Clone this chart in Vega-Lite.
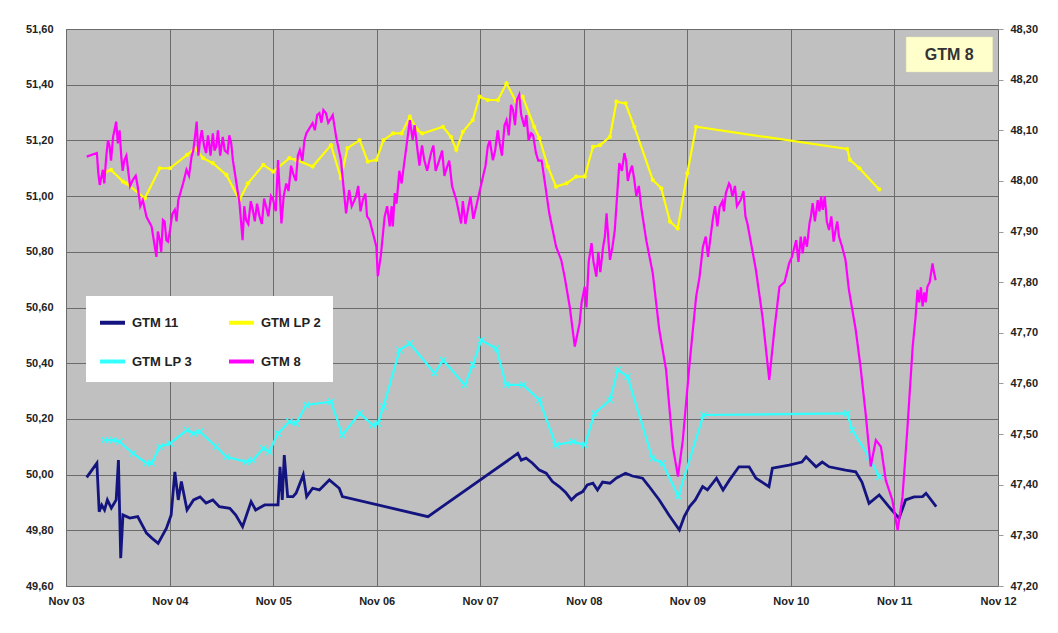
{
  "$schema": "https://vega.github.io/schema/vega-lite/v6.json",
  "width": 932,
  "height": 557,
  "autosize": {"type": "none"},
  "padding": {"left": 66, "top": 29, "right": 60, "bottom": 47},
  "background": "white",
  "config": {
    "view": {"fill": "#c0c0c0", "stroke": "#808080", "strokeWidth": 1},
    "font": "Liberation Sans",
    "axis": {"labelFont": "Liberation Sans", "labelFontWeight": "bold", "labelFontSize": 11, "labelColor": "#222222", "gridColor": "#6b6b6b", "gridWidth": 1, "gridOpacity": 1, "domain": false, "labelOverlap": false},
    "legend": {"labelFont": "Liberation Sans", "labelFontWeight": "bold", "labelFontSize": 13, "labelColor": "#222222"}
  },
  "datasets": {
    "left": [
      {"date": "2004-01-13", "series": "GTM 11", "value": 49.990},
      {"date": "2004-02-18", "series": "GTM 11", "value": 50.041},
      {"date": "2004-02-26", "series": "GTM 11", "value": 49.867},
      {"date": "2004-03-06", "series": "GTM 11", "value": 49.891},
      {"date": "2004-03-16", "series": "GTM 11", "value": 49.873},
      {"date": "2004-03-26", "series": "GTM 11", "value": 49.909},
      {"date": "2004-04-09", "series": "GTM 11", "value": 49.880},
      {"date": "2004-04-26", "series": "GTM 11", "value": 49.909},
      {"date": "2004-05-04", "series": "GTM 11", "value": 50.052},
      {"date": "2004-05-12", "series": "GTM 11", "value": 49.700},
      {"date": "2004-05-20", "series": "GTM 11", "value": 49.855},
      {"date": "2004-06-13", "series": "GTM 11", "value": 49.844},
      {"date": "2004-07-11", "series": "GTM 11", "value": 49.849},
      {"date": "2004-08-11", "series": "GTM 11", "value": 49.790},
      {"date": "2004-08-30", "series": "GTM 11", "value": 49.772},
      {"date": "2004-09-21", "series": "GTM 11", "value": 49.753},
      {"date": "2004-10-20", "series": "GTM 11", "value": 49.807},
      {"date": "2004-11-06", "series": "GTM 11", "value": 49.855},
      {"date": "2004-11-19", "series": "GTM 11", "value": 50.010},
      {"date": "2004-12-01", "series": "GTM 11", "value": 49.909},
      {"date": "2004-12-12", "series": "GTM 11", "value": 49.975},
      {"date": "2005-01-01", "series": "GTM 11", "value": 49.873},
      {"date": "2005-01-24", "series": "GTM 11", "value": 49.909},
      {"date": "2005-02-16", "series": "GTM 11", "value": 49.920},
      {"date": "2005-03-09", "series": "GTM 11", "value": 49.898},
      {"date": "2005-04-02", "series": "GTM 11", "value": 49.909},
      {"date": "2005-04-25", "series": "GTM 11", "value": 49.885},
      {"date": "2005-06-01", "series": "GTM 11", "value": 49.879},
      {"date": "2005-06-22", "series": "GTM 11", "value": 49.855},
      {"date": "2005-07-16", "series": "GTM 11", "value": 49.813},
      {"date": "2005-08-15", "series": "GTM 11", "value": 49.903},
      {"date": "2005-08-31", "series": "GTM 11", "value": 49.873},
      {"date": "2005-10-02", "series": "GTM 11", "value": 49.891},
      {"date": "2005-11-01", "series": "GTM 11", "value": 49.891},
      {"date": "2005-11-18", "series": "GTM 11", "value": 49.891},
      {"date": "2005-11-25", "series": "GTM 11", "value": 50.028},
      {"date": "2005-12-03", "series": "GTM 11", "value": 49.909},
      {"date": "2005-12-10", "series": "GTM 11", "value": 50.070},
      {"date": "2005-12-22", "series": "GTM 11", "value": 49.921},
      {"date": "2006-01-10", "series": "GTM 11", "value": 49.921},
      {"date": "2006-01-21", "series": "GTM 11", "value": 49.934},
      {"date": "2006-02-15", "series": "GTM 11", "value": 49.999},
      {"date": "2006-02-27", "series": "GTM 11", "value": 49.921},
      {"date": "2006-03-20", "series": "GTM 11", "value": 49.951},
      {"date": "2006-04-13", "series": "GTM 11", "value": 49.945},
      {"date": "2006-05-18", "series": "GTM 11", "value": 49.981},
      {"date": "2006-06-22", "series": "GTM 11", "value": 49.951},
      {"date": "2006-07-03", "series": "GTM 11", "value": 49.921},
      {"date": "2007-05-01", "series": "GTM 11", "value": 49.849},
      {"date": "2008-03-13", "series": "GTM 11", "value": 50.076},
      {"date": "2008-03-25", "series": "GTM 11", "value": 50.052},
      {"date": "2008-04-11", "series": "GTM 11", "value": 50.059},
      {"date": "2008-05-04", "series": "GTM 11", "value": 50.041},
      {"date": "2008-05-28", "series": "GTM 11", "value": 50.016},
      {"date": "2008-06-21", "series": "GTM 11", "value": 50.005},
      {"date": "2008-07-13", "series": "GTM 11", "value": 49.975},
      {"date": "2008-08-06", "series": "GTM 11", "value": 49.957},
      {"date": "2008-08-28", "series": "GTM 11", "value": 49.937},
      {"date": "2008-09-18", "series": "GTM 11", "value": 49.909},
      {"date": "2008-10-06", "series": "GTM 11", "value": 49.927},
      {"date": "2008-10-28", "series": "GTM 11", "value": 49.939},
      {"date": "2008-11-13", "series": "GTM 11", "value": 49.963},
      {"date": "2008-12-03", "series": "GTM 11", "value": 49.969},
      {"date": "2008-12-19", "series": "GTM 11", "value": 49.945},
      {"date": "2009-01-06", "series": "GTM 11", "value": 49.973},
      {"date": "2009-02-01", "series": "GTM 11", "value": 49.969},
      {"date": "2009-02-24", "series": "GTM 11", "value": 49.988},
      {"date": "2009-03-28", "series": "GTM 11", "value": 50.005},
      {"date": "2009-04-21", "series": "GTM 11", "value": 49.995},
      {"date": "2009-05-27", "series": "GTM 11", "value": 49.987},
      {"date": "2009-06-18", "series": "GTM 11", "value": 49.959},
      {"date": "2009-07-25", "series": "GTM 11", "value": 49.909},
      {"date": "2009-08-28", "series": "GTM 11", "value": 49.855},
      {"date": "2009-10-04", "series": "GTM 11", "value": 49.801},
      {"date": "2009-10-21", "series": "GTM 11", "value": 49.849},
      {"date": "2009-11-09", "series": "GTM 11", "value": 49.885},
      {"date": "2009-11-29", "series": "GTM 11", "value": 49.909},
      {"date": "2009-12-25", "series": "GTM 11", "value": 49.957},
      {"date": "2010-01-11", "series": "GTM 11", "value": 49.945},
      {"date": "2010-02-12", "series": "GTM 11", "value": 49.987},
      {"date": "2010-03-07", "series": "GTM 11", "value": 49.945},
      {"date": "2010-03-30", "series": "GTM 11", "value": 49.981},
      {"date": "2010-05-02", "series": "GTM 11", "value": 50.028},
      {"date": "2010-06-07", "series": "GTM 11", "value": 50.028},
      {"date": "2010-07-01", "series": "GTM 11", "value": 49.987},
      {"date": "2010-08-16", "series": "GTM 11", "value": 49.957},
      {"date": "2010-08-28", "series": "GTM 11", "value": 50.023},
      {"date": "2010-10-26", "series": "GTM 11", "value": 50.034},
      {"date": "2010-12-10", "series": "GTM 11", "value": 50.045},
      {"date": "2010-12-25", "series": "GTM 11", "value": 50.064},
      {"date": "2011-01-29", "series": "GTM 11", "value": 50.028},
      {"date": "2011-02-20", "series": "GTM 11", "value": 50.045},
      {"date": "2011-03-16", "series": "GTM 11", "value": 50.028},
      {"date": "2011-05-13", "series": "GTM 11", "value": 50.016},
      {"date": "2011-06-18", "series": "GTM 11", "value": 50.010},
      {"date": "2011-07-10", "series": "GTM 11", "value": 49.973},
      {"date": "2011-08-04", "series": "GTM 11", "value": 49.897},
      {"date": "2011-09-09", "series": "GTM 11", "value": 49.927},
      {"date": "2011-10-13", "series": "GTM 11", "value": 49.885},
      {"date": "2011-11-18", "series": "GTM 11", "value": 49.843},
      {"date": "2011-12-11", "series": "GTM 11", "value": 49.909},
      {"date": "2012-01-10", "series": "GTM 11", "value": 49.920},
      {"date": "2012-02-09", "series": "GTM 11", "value": 49.921},
      {"date": "2012-02-21", "series": "GTM 11", "value": 49.933},
      {"date": "2012-03-28", "series": "GTM 11", "value": 49.885},

      {"date": "2004-03-22", "series": "GTM LP 2", "value": 51.088},
      {"date": "2004-04-08", "series": "GTM LP 2", "value": 51.094},
      {"date": "2004-05-20", "series": "GTM LP 2", "value": 51.052},
      {"date": "2004-06-01", "series": "GTM LP 2", "value": 51.046},
      {"date": "2004-08-05", "series": "GTM LP 2", "value": 50.992},
      {"date": "2004-09-27", "series": "GTM LP 2", "value": 51.100},
      {"date": "2004-11-02", "series": "GTM LP 2", "value": 51.100},
      {"date": "2005-01-01", "series": "GTM LP 2", "value": 51.148},
      {"date": "2005-01-29", "series": "GTM LP 2", "value": 51.172},
      {"date": "2005-02-27", "series": "GTM LP 2", "value": 51.136},
      {"date": "2005-04-02", "series": "GTM LP 2", "value": 51.118},
      {"date": "2005-05-20", "series": "GTM LP 2", "value": 51.076},
      {"date": "2005-07-05", "series": "GTM LP 2", "value": 50.986},
      {"date": "2005-08-04", "series": "GTM LP 2", "value": 51.046},
      {"date": "2005-09-27", "series": "GTM LP 2", "value": 51.112},
      {"date": "2005-11-01", "series": "GTM LP 2", "value": 51.088},
      {"date": "2005-12-28", "series": "GTM LP 2", "value": 51.136},
      {"date": "2006-01-21", "series": "GTM LP 2", "value": 51.130},
      {"date": "2006-03-20", "series": "GTM LP 2", "value": 51.106},
      {"date": "2006-05-24", "series": "GTM LP 2", "value": 51.183},
      {"date": "2006-06-28", "series": "GTM LP 2", "value": 51.064},
      {"date": "2006-07-21", "series": "GTM LP 2", "value": 51.172},
      {"date": "2006-09-02", "series": "GTM LP 2", "value": 51.201},
      {"date": "2006-10-01", "series": "GTM LP 2", "value": 51.124},
      {"date": "2006-10-31", "series": "GTM LP 2", "value": 51.130},
      {"date": "2006-11-25", "series": "GTM LP 2", "value": 51.201},
      {"date": "2006-12-29", "series": "GTM LP 2", "value": 51.225},
      {"date": "2007-01-28", "series": "GTM LP 2", "value": 51.225},
      {"date": "2007-02-26", "series": "GTM LP 2", "value": 51.285},
      {"date": "2007-03-25", "series": "GTM LP 2", "value": 51.237},
      {"date": "2007-04-11", "series": "GTM LP 2", "value": 51.225},
      {"date": "2007-06-23", "series": "GTM LP 2", "value": 51.249},
      {"date": "2007-07-21", "series": "GTM LP 2", "value": 51.213},
      {"date": "2007-08-09", "series": "GTM LP 2", "value": 51.166},
      {"date": "2007-09-01", "series": "GTM LP 2", "value": 51.231},
      {"date": "2007-10-06", "series": "GTM LP 2", "value": 51.273},
      {"date": "2007-10-30", "series": "GTM LP 2", "value": 51.357},
      {"date": "2007-11-28", "series": "GTM LP 2", "value": 51.345},
      {"date": "2008-01-03", "series": "GTM LP 2", "value": 51.345},
      {"date": "2008-02-02", "series": "GTM LP 2", "value": 51.405},
      {"date": "2008-03-07", "series": "GTM LP 2", "value": 51.339},
      {"date": "2008-03-30", "series": "GTM LP 2", "value": 51.357},
      {"date": "2008-05-10", "series": "GTM LP 2", "value": 51.249},
      {"date": "2008-05-28", "series": "GTM LP 2", "value": 51.208},
      {"date": "2008-06-27", "series": "GTM LP 2", "value": 51.106},
      {"date": "2008-07-26", "series": "GTM LP 2", "value": 51.034},
      {"date": "2008-09-01", "series": "GTM LP 2", "value": 51.046},
      {"date": "2008-10-05", "series": "GTM LP 2", "value": 51.070},
      {"date": "2008-11-04", "series": "GTM LP 2", "value": 51.070},
      {"date": "2008-12-03", "series": "GTM LP 2", "value": 51.177},
      {"date": "2008-12-28", "series": "GTM LP 2", "value": 51.183},
      {"date": "2009-02-01", "series": "GTM LP 2", "value": 51.213},
      {"date": "2009-02-24", "series": "GTM LP 2", "value": 51.339},
      {"date": "2009-03-28", "series": "GTM LP 2", "value": 51.333},
      {"date": "2009-04-28", "series": "GTM LP 2", "value": 51.249},
      {"date": "2009-07-02", "series": "GTM LP 2", "value": 51.058},
      {"date": "2009-08-01", "series": "GTM LP 2", "value": 51.028},
      {"date": "2009-09-01", "series": "GTM LP 2", "value": 50.908},
      {"date": "2009-09-28", "series": "GTM LP 2", "value": 50.884},
      {"date": "2009-11-01", "series": "GTM LP 2", "value": 51.082},
      {"date": "2009-12-02", "series": "GTM LP 2", "value": 51.249},
      {"date": "2011-05-19", "series": "GTM LP 2", "value": 51.169},
      {"date": "2011-05-29", "series": "GTM LP 2", "value": 51.130},
      {"date": "2011-07-01", "series": "GTM LP 2", "value": 51.100},
      {"date": "2011-09-09", "series": "GTM LP 2", "value": 51.024},

      {"date": "2004-03-16", "series": "GTM LP 3", "value": 50.124},
      {"date": "2004-04-15", "series": "GTM LP 3", "value": 50.124},
      {"date": "2004-05-08", "series": "GTM LP 3", "value": 50.118},
      {"date": "2004-06-24", "series": "GTM LP 3", "value": 50.076},
      {"date": "2004-08-11", "series": "GTM LP 3", "value": 50.041},
      {"date": "2004-08-29", "series": "GTM LP 3", "value": 50.041},
      {"date": "2004-09-27", "series": "GTM LP 3", "value": 50.100},
      {"date": "2004-11-02", "series": "GTM LP 3", "value": 50.112},
      {"date": "2005-01-01", "series": "GTM LP 3", "value": 50.160},
      {"date": "2005-01-24", "series": "GTM LP 3", "value": 50.148},
      {"date": "2005-02-16", "series": "GTM LP 3", "value": 50.154},
      {"date": "2005-04-14", "series": "GTM LP 3", "value": 50.100},
      {"date": "2005-05-20", "series": "GTM LP 3", "value": 50.064},
      {"date": "2005-07-28", "series": "GTM LP 3", "value": 50.046},
      {"date": "2005-08-21", "series": "GTM LP 3", "value": 50.052},
      {"date": "2005-09-27", "series": "GTM LP 3", "value": 50.094},
      {"date": "2005-10-18", "series": "GTM LP 3", "value": 50.082},
      {"date": "2005-11-18", "series": "GTM LP 3", "value": 50.148},
      {"date": "2005-12-28", "series": "GTM LP 3", "value": 50.190},
      {"date": "2006-01-21", "series": "GTM LP 3", "value": 50.184},
      {"date": "2006-02-26", "series": "GTM LP 3", "value": 50.250},
      {"date": "2006-05-24", "series": "GTM LP 3", "value": 50.262},
      {"date": "2006-07-03", "series": "GTM LP 3", "value": 50.142},
      {"date": "2006-09-02", "series": "GTM LP 3", "value": 50.220},
      {"date": "2006-10-18", "series": "GTM LP 3", "value": 50.178},
      {"date": "2006-11-05", "series": "GTM LP 3", "value": 50.184},
      {"date": "2006-11-25", "series": "GTM LP 3", "value": 50.244},
      {"date": "2007-01-21", "series": "GTM LP 3", "value": 50.447},
      {"date": "2007-02-26", "series": "GTM LP 3", "value": 50.471},
      {"date": "2007-05-24", "series": "GTM LP 3", "value": 50.364},
      {"date": "2007-06-23", "series": "GTM LP 3", "value": 50.411},
      {"date": "2007-09-08", "series": "GTM LP 3", "value": 50.322},
      {"date": "2007-10-06", "series": "GTM LP 3", "value": 50.394},
      {"date": "2007-11-05", "series": "GTM LP 3", "value": 50.483},
      {"date": "2007-12-28", "series": "GTM LP 3", "value": 50.453},
      {"date": "2008-02-01", "series": "GTM LP 3", "value": 50.322},
      {"date": "2008-04-01", "series": "GTM LP 3", "value": 50.322},
      {"date": "2008-05-28", "series": "GTM LP 3", "value": 50.268},
      {"date": "2008-07-25", "series": "GTM LP 3", "value": 50.106},
      {"date": "2008-09-24", "series": "GTM LP 3", "value": 50.118},
      {"date": "2008-11-04", "series": "GTM LP 3", "value": 50.106},
      {"date": "2008-12-09", "series": "GTM LP 3", "value": 50.220},
      {"date": "2009-02-01", "series": "GTM LP 3", "value": 50.268},
      {"date": "2009-03-01", "series": "GTM LP 3", "value": 50.376},
      {"date": "2009-04-04", "series": "GTM LP 3", "value": 50.352},
      {"date": "2009-07-01", "series": "GTM LP 3", "value": 50.058},
      {"date": "2009-08-05", "series": "GTM LP 3", "value": 50.041},
      {"date": "2009-09-30", "series": "GTM LP 3", "value": 49.923},
      {"date": "2009-12-28", "series": "GTM LP 3", "value": 50.214},
      {"date": "2011-05-19", "series": "GTM LP 3", "value": 50.220},
      {"date": "2011-06-06", "series": "GTM LP 3", "value": 50.160},
      {"date": "2011-08-04", "series": "GTM LP 3", "value": 50.064},
      {"date": "2011-09-09", "series": "GTM LP 3", "value": 49.992}
    ],
    "gtm8": [
      {"date": "2004-01-13", "series": "GTM 8", "value": 48.048},
      {"date": "2004-02-18", "series": "GTM 8", "value": 48.055},
      {"date": "2004-02-23", "series": "GTM 8", "value": 48.015},
      {"date": "2004-02-28", "series": "GTM 8", "value": 47.992},
      {"date": "2004-03-10", "series": "GTM 8", "value": 48.022},
      {"date": "2004-03-15", "series": "GTM 8", "value": 47.995},
      {"date": "2004-03-22", "series": "GTM 8", "value": 48.048},
      {"date": "2004-03-28", "series": "GTM 8", "value": 48.080},
      {"date": "2004-04-03", "series": "GTM 8", "value": 48.068},
      {"date": "2004-04-08", "series": "GTM 8", "value": 48.040},
      {"date": "2004-04-15", "series": "GTM 8", "value": 48.087},
      {"date": "2004-04-20", "series": "GTM 8", "value": 48.100},
      {"date": "2004-04-26", "series": "GTM 8", "value": 48.117},
      {"date": "2004-05-02", "series": "GTM 8", "value": 48.074},
      {"date": "2004-05-08", "series": "GTM 8", "value": 48.100},
      {"date": "2004-05-14", "series": "GTM 8", "value": 48.048},
      {"date": "2004-05-19", "series": "GTM 8", "value": 48.020},
      {"date": "2004-05-25", "series": "GTM 8", "value": 48.041},
      {"date": "2004-06-01", "series": "GTM 8", "value": 48.050},
      {"date": "2004-06-07", "series": "GTM 8", "value": 48.022},
      {"date": "2004-06-14", "series": "GTM 8", "value": 47.990},
      {"date": "2004-06-24", "series": "GTM 8", "value": 48.002},
      {"date": "2004-07-04", "series": "GTM 8", "value": 48.010},
      {"date": "2004-07-11", "series": "GTM 8", "value": 47.989},
      {"date": "2004-07-20", "series": "GTM 8", "value": 47.950},
      {"date": "2004-07-29", "series": "GTM 8", "value": 47.962},
      {"date": "2004-08-11", "series": "GTM 8", "value": 47.929},
      {"date": "2004-08-29", "series": "GTM 8", "value": 47.910},
      {"date": "2004-09-15", "series": "GTM 8", "value": 47.850},
      {"date": "2004-09-20", "series": "GTM 8", "value": 47.900},
      {"date": "2004-09-27", "series": "GTM 8", "value": 47.883},
      {"date": "2004-10-02", "series": "GTM 8", "value": 47.860},
      {"date": "2004-10-08", "series": "GTM 8", "value": 47.923},
      {"date": "2004-10-14", "series": "GTM 8", "value": 47.920},
      {"date": "2004-10-20", "series": "GTM 8", "value": 47.883},
      {"date": "2004-10-26", "series": "GTM 8", "value": 47.880},
      {"date": "2004-11-02", "series": "GTM 8", "value": 47.903},
      {"date": "2004-11-10", "series": "GTM 8", "value": 47.935},
      {"date": "2004-11-19", "series": "GTM 8", "value": 47.943},
      {"date": "2004-11-25", "series": "GTM 8", "value": 47.920},
      {"date": "2004-12-01", "series": "GTM 8", "value": 47.962},
      {"date": "2004-12-18", "series": "GTM 8", "value": 47.995},
      {"date": "2004-12-30", "series": "GTM 8", "value": 48.022},
      {"date": "2005-01-08", "series": "GTM 8", "value": 48.010},
      {"date": "2005-01-17", "series": "GTM 8", "value": 48.048},
      {"date": "2005-01-23", "series": "GTM 8", "value": 48.060},
      {"date": "2005-01-29", "series": "GTM 8", "value": 48.087},
      {"date": "2005-02-04", "series": "GTM 8", "value": 48.117},
      {"date": "2005-02-10", "series": "GTM 8", "value": 48.050},
      {"date": "2005-02-16", "series": "GTM 8", "value": 48.081},
      {"date": "2005-02-22", "series": "GTM 8", "value": 48.100},
      {"date": "2005-03-02", "series": "GTM 8", "value": 48.070},
      {"date": "2005-03-09", "series": "GTM 8", "value": 48.055},
      {"date": "2005-03-16", "series": "GTM 8", "value": 48.090},
      {"date": "2005-03-25", "series": "GTM 8", "value": 48.050},
      {"date": "2005-04-02", "series": "GTM 8", "value": 48.094},
      {"date": "2005-04-08", "series": "GTM 8", "value": 48.060},
      {"date": "2005-04-14", "series": "GTM 8", "value": 48.068},
      {"date": "2005-04-20", "series": "GTM 8", "value": 48.100},
      {"date": "2005-04-28", "series": "GTM 8", "value": 48.050},
      {"date": "2005-05-07", "series": "GTM 8", "value": 48.087},
      {"date": "2005-05-14", "series": "GTM 8", "value": 48.060},
      {"date": "2005-05-24", "series": "GTM 8", "value": 48.055},
      {"date": "2005-05-30", "series": "GTM 8", "value": 48.090},
      {"date": "2005-06-06", "series": "GTM 8", "value": 48.074},
      {"date": "2005-06-12", "series": "GTM 8", "value": 48.040},
      {"date": "2005-06-17", "series": "GTM 8", "value": 48.022},
      {"date": "2005-07-05", "series": "GTM 8", "value": 47.956},
      {"date": "2005-07-16", "series": "GTM 8", "value": 47.883},
      {"date": "2005-07-22", "series": "GTM 8", "value": 47.950},
      {"date": "2005-07-28", "series": "GTM 8", "value": 47.923},
      {"date": "2005-08-05", "series": "GTM 8", "value": 47.915},
      {"date": "2005-08-14", "series": "GTM 8", "value": 47.960},
      {"date": "2005-08-21", "series": "GTM 8", "value": 47.943},
      {"date": "2005-08-28", "series": "GTM 8", "value": 47.920},
      {"date": "2005-09-05", "series": "GTM 8", "value": 47.955},
      {"date": "2005-09-14", "series": "GTM 8", "value": 47.929},
      {"date": "2005-09-22", "series": "GTM 8", "value": 47.915},
      {"date": "2005-09-30", "series": "GTM 8", "value": 47.965},
      {"date": "2005-10-07", "series": "GTM 8", "value": 47.949},
      {"date": "2005-10-15", "series": "GTM 8", "value": 47.930},
      {"date": "2005-10-24", "series": "GTM 8", "value": 47.970},
      {"date": "2005-11-01", "series": "GTM 8", "value": 47.962},
      {"date": "2005-11-10", "series": "GTM 8", "value": 47.940},
      {"date": "2005-11-18", "series": "GTM 8", "value": 48.041},
      {"date": "2005-11-30", "series": "GTM 8", "value": 47.916},
      {"date": "2005-12-08", "series": "GTM 8", "value": 47.970},
      {"date": "2005-12-17", "series": "GTM 8", "value": 47.995},
      {"date": "2005-12-25", "series": "GTM 8", "value": 47.980},
      {"date": "2006-01-03", "series": "GTM 8", "value": 48.030},
      {"date": "2006-01-10", "series": "GTM 8", "value": 48.015},
      {"date": "2006-01-20", "series": "GTM 8", "value": 48.000},
      {"date": "2006-01-27", "series": "GTM 8", "value": 48.050},
      {"date": "2006-02-03", "series": "GTM 8", "value": 48.061},
      {"date": "2006-02-12", "series": "GTM 8", "value": 48.040},
      {"date": "2006-02-19", "series": "GTM 8", "value": 48.080},
      {"date": "2006-02-26", "series": "GTM 8", "value": 48.094},
      {"date": "2006-03-20", "series": "GTM 8", "value": 48.114},
      {"date": "2006-03-28", "series": "GTM 8", "value": 48.100},
      {"date": "2006-04-05", "series": "GTM 8", "value": 48.130},
      {"date": "2006-04-13", "series": "GTM 8", "value": 48.134},
      {"date": "2006-04-20", "series": "GTM 8", "value": 48.115},
      {"date": "2006-04-27", "series": "GTM 8", "value": 48.140},
      {"date": "2006-05-06", "series": "GTM 8", "value": 48.134},
      {"date": "2006-05-14", "series": "GTM 8", "value": 48.115},
      {"date": "2006-05-24", "series": "GTM 8", "value": 48.124},
      {"date": "2006-05-30", "series": "GTM 8", "value": 48.130},
      {"date": "2006-06-11", "series": "GTM 8", "value": 48.087},
      {"date": "2006-06-28", "series": "GTM 8", "value": 48.041},
      {"date": "2006-07-16", "series": "GTM 8", "value": 47.936},
      {"date": "2006-07-27", "series": "GTM 8", "value": 47.982},
      {"date": "2006-08-05", "series": "GTM 8", "value": 47.950},
      {"date": "2006-08-20", "series": "GTM 8", "value": 47.969},
      {"date": "2006-08-28", "series": "GTM 8", "value": 47.990},
      {"date": "2006-09-05", "series": "GTM 8", "value": 47.940},
      {"date": "2006-09-13", "series": "GTM 8", "value": 47.962},
      {"date": "2006-09-22", "series": "GTM 8", "value": 47.975},
      {"date": "2006-09-28", "series": "GTM 8", "value": 47.930},
      {"date": "2006-10-07", "series": "GTM 8", "value": 47.923},
      {"date": "2006-10-31", "series": "GTM 8", "value": 47.870},
      {"date": "2006-11-05", "series": "GTM 8", "value": 47.812},
      {"date": "2006-11-16", "series": "GTM 8", "value": 47.854},
      {"date": "2006-11-29", "series": "GTM 8", "value": 47.929},
      {"date": "2006-12-08", "series": "GTM 8", "value": 47.950},
      {"date": "2006-12-17", "series": "GTM 8", "value": 47.910},
      {"date": "2006-12-24", "series": "GTM 8", "value": 47.950},
      {"date": "2006-12-28", "series": "GTM 8", "value": 47.910},
      {"date": "2007-01-04", "series": "GTM 8", "value": 47.976},
      {"date": "2007-01-10", "series": "GTM 8", "value": 47.955},
      {"date": "2007-01-20", "series": "GTM 8", "value": 48.020},
      {"date": "2007-01-28", "series": "GTM 8", "value": 47.995},
      {"date": "2007-02-05", "series": "GTM 8", "value": 48.030},
      {"date": "2007-02-14", "series": "GTM 8", "value": 48.068},
      {"date": "2007-02-26", "series": "GTM 8", "value": 48.120},
      {"date": "2007-03-08", "series": "GTM 8", "value": 48.081},
      {"date": "2007-03-15", "series": "GTM 8", "value": 48.110},
      {"date": "2007-03-25", "series": "GTM 8", "value": 48.061},
      {"date": "2007-04-01", "series": "GTM 8", "value": 48.030},
      {"date": "2007-04-10", "series": "GTM 8", "value": 48.070},
      {"date": "2007-04-18", "series": "GTM 8", "value": 48.041},
      {"date": "2007-04-28", "series": "GTM 8", "value": 48.020},
      {"date": "2007-05-12", "series": "GTM 8", "value": 48.055},
      {"date": "2007-05-20", "series": "GTM 8", "value": 48.070},
      {"date": "2007-05-28", "series": "GTM 8", "value": 48.020},
      {"date": "2007-06-10", "series": "GTM 8", "value": 48.041},
      {"date": "2007-06-20", "series": "GTM 8", "value": 48.060},
      {"date": "2007-06-28", "series": "GTM 8", "value": 48.010},
      {"date": "2007-07-04", "series": "GTM 8", "value": 48.022},
      {"date": "2007-07-15", "series": "GTM 8", "value": 48.040},
      {"date": "2007-07-25", "series": "GTM 8", "value": 47.990},
      {"date": "2007-08-09", "series": "GTM 8", "value": 47.962},
      {"date": "2007-08-26", "series": "GTM 8", "value": 47.916},
      {"date": "2007-09-01", "series": "GTM 8", "value": 47.960},
      {"date": "2007-09-10", "series": "GTM 8", "value": 47.915},
      {"date": "2007-09-19", "series": "GTM 8", "value": 47.943},
      {"date": "2007-09-28", "series": "GTM 8", "value": 47.970},
      {"date": "2007-10-08", "series": "GTM 8", "value": 47.925},
      {"date": "2007-10-18", "series": "GTM 8", "value": 47.949},
      {"date": "2007-11-11", "series": "GTM 8", "value": 48.008},
      {"date": "2007-11-20", "series": "GTM 8", "value": 48.030},
      {"date": "2007-11-28", "series": "GTM 8", "value": 48.068},
      {"date": "2007-12-05", "series": "GTM 8", "value": 48.080},
      {"date": "2007-12-16", "series": "GTM 8", "value": 48.041},
      {"date": "2007-12-24", "series": "GTM 8", "value": 48.060},
      {"date": "2008-01-02", "series": "GTM 8", "value": 48.100},
      {"date": "2008-01-09", "series": "GTM 8", "value": 48.074},
      {"date": "2008-01-17", "series": "GTM 8", "value": 48.050},
      {"date": "2008-01-26", "series": "GTM 8", "value": 48.110},
      {"date": "2008-02-02", "series": "GTM 8", "value": 48.120},
      {"date": "2008-02-10", "series": "GTM 8", "value": 48.090},
      {"date": "2008-02-18", "series": "GTM 8", "value": 48.150},
      {"date": "2008-02-25", "series": "GTM 8", "value": 48.140},
      {"date": "2008-03-03", "series": "GTM 8", "value": 48.110},
      {"date": "2008-03-10", "series": "GTM 8", "value": 48.160},
      {"date": "2008-03-18", "series": "GTM 8", "value": 48.170},
      {"date": "2008-03-25", "series": "GTM 8", "value": 48.130},
      {"date": "2008-04-05", "series": "GTM 8", "value": 48.107},
      {"date": "2008-04-12", "series": "GTM 8", "value": 48.130},
      {"date": "2008-04-20", "series": "GTM 8", "value": 48.080},
      {"date": "2008-04-29", "series": "GTM 8", "value": 48.094},
      {"date": "2008-05-06", "series": "GTM 8", "value": 48.090},
      {"date": "2008-05-16", "series": "GTM 8", "value": 48.055},
      {"date": "2008-05-24", "series": "GTM 8", "value": 48.040},
      {"date": "2008-06-05", "series": "GTM 8", "value": 48.040},
      {"date": "2008-06-15", "series": "GTM 8", "value": 48.002},
      {"date": "2008-07-02", "series": "GTM 8", "value": 47.936},
      {"date": "2008-07-26", "series": "GTM 8", "value": 47.870},
      {"date": "2008-08-13", "series": "GTM 8", "value": 47.844},
      {"date": "2008-08-25", "series": "GTM 8", "value": 47.811},
      {"date": "2008-09-12", "series": "GTM 8", "value": 47.752},
      {"date": "2008-09-30", "series": "GTM 8", "value": 47.673},
      {"date": "2008-10-17", "series": "GTM 8", "value": 47.719},
      {"date": "2008-10-24", "series": "GTM 8", "value": 47.760},
      {"date": "2008-11-04", "series": "GTM 8", "value": 47.791},
      {"date": "2008-11-10", "series": "GTM 8", "value": 47.750},
      {"date": "2008-11-18", "series": "GTM 8", "value": 47.840},
      {"date": "2008-11-28", "series": "GTM 8", "value": 47.877},
      {"date": "2008-12-05", "series": "GTM 8", "value": 47.840},
      {"date": "2008-12-15", "series": "GTM 8", "value": 47.811},
      {"date": "2008-12-22", "series": "GTM 8", "value": 47.860},
      {"date": "2008-12-29", "series": "GTM 8", "value": 47.820},
      {"date": "2009-01-08", "series": "GTM 8", "value": 47.870},
      {"date": "2009-01-14", "series": "GTM 8", "value": 47.890},
      {"date": "2009-01-20", "series": "GTM 8", "value": 47.936},
      {"date": "2009-01-27", "series": "GTM 8", "value": 47.880},
      {"date": "2009-02-01", "series": "GTM 8", "value": 47.844},
      {"date": "2009-02-10", "series": "GTM 8", "value": 47.870},
      {"date": "2009-02-18", "series": "GTM 8", "value": 47.903},
      {"date": "2009-02-25", "series": "GTM 8", "value": 47.960},
      {"date": "2009-03-06", "series": "GTM 8", "value": 48.035},
      {"date": "2009-03-15", "series": "GTM 8", "value": 48.020},
      {"date": "2009-03-24", "series": "GTM 8", "value": 48.055},
      {"date": "2009-03-30", "series": "GTM 8", "value": 48.040},
      {"date": "2009-04-05", "series": "GTM 8", "value": 48.000},
      {"date": "2009-04-11", "series": "GTM 8", "value": 48.015},
      {"date": "2009-04-20", "series": "GTM 8", "value": 48.030},
      {"date": "2009-04-28", "series": "GTM 8", "value": 48.002},
      {"date": "2009-05-05", "series": "GTM 8", "value": 47.970},
      {"date": "2009-05-14", "series": "GTM 8", "value": 47.990},
      {"date": "2009-05-22", "series": "GTM 8", "value": 47.949},
      {"date": "2009-06-09", "series": "GTM 8", "value": 47.883},
      {"date": "2009-07-02", "series": "GTM 8", "value": 47.818},
      {"date": "2009-07-25", "series": "GTM 8", "value": 47.706},
      {"date": "2009-08-18", "series": "GTM 8", "value": 47.627},
      {"date": "2009-09-11", "series": "GTM 8", "value": 47.475},
      {"date": "2009-09-29", "series": "GTM 8", "value": 47.416},
      {"date": "2009-10-16", "series": "GTM 8", "value": 47.488},
      {"date": "2009-11-09", "series": "GTM 8", "value": 47.640},
      {"date": "2009-12-02", "series": "GTM 8", "value": 47.771},
      {"date": "2009-12-14", "series": "GTM 8", "value": 47.810},
      {"date": "2009-12-26", "series": "GTM 8", "value": 47.870},
      {"date": "2010-01-05", "series": "GTM 8", "value": 47.890},
      {"date": "2010-01-13", "series": "GTM 8", "value": 47.850},
      {"date": "2010-01-22", "series": "GTM 8", "value": 47.890},
      {"date": "2010-01-31", "series": "GTM 8", "value": 47.929},
      {"date": "2010-02-07", "series": "GTM 8", "value": 47.950},
      {"date": "2010-02-15", "series": "GTM 8", "value": 47.910},
      {"date": "2010-02-23", "series": "GTM 8", "value": 47.949},
      {"date": "2010-03-05", "series": "GTM 8", "value": 47.960},
      {"date": "2010-03-10", "series": "GTM 8", "value": 47.940},
      {"date": "2010-03-17", "series": "GTM 8", "value": 47.976},
      {"date": "2010-03-28", "series": "GTM 8", "value": 47.995},
      {"date": "2010-04-02", "series": "GTM 8", "value": 47.990},
      {"date": "2010-04-09", "series": "GTM 8", "value": 47.969},
      {"date": "2010-04-18", "series": "GTM 8", "value": 47.990},
      {"date": "2010-04-25", "series": "GTM 8", "value": 47.950},
      {"date": "2010-05-08", "series": "GTM 8", "value": 47.962},
      {"date": "2010-05-18", "series": "GTM 8", "value": 47.980},
      {"date": "2010-05-25", "series": "GTM 8", "value": 47.930},
      {"date": "2010-06-01", "series": "GTM 8", "value": 47.916},
      {"date": "2010-07-01", "series": "GTM 8", "value": 47.824},
      {"date": "2010-07-24", "series": "GTM 8", "value": 47.732},
      {"date": "2010-08-17", "series": "GTM 8", "value": 47.607},
      {"date": "2010-09-04", "series": "GTM 8", "value": 47.706},
      {"date": "2010-09-22", "series": "GTM 8", "value": 47.791},
      {"date": "2010-10-10", "series": "GTM 8", "value": 47.800},
      {"date": "2010-10-26", "series": "GTM 8", "value": 47.837},
      {"date": "2010-11-05", "series": "GTM 8", "value": 47.850},
      {"date": "2010-11-20", "series": "GTM 8", "value": 47.883},
      {"date": "2010-11-28", "series": "GTM 8", "value": 47.840},
      {"date": "2010-12-06", "series": "GTM 8", "value": 47.890},
      {"date": "2010-12-13", "series": "GTM 8", "value": 47.857},
      {"date": "2010-12-20", "series": "GTM 8", "value": 47.890},
      {"date": "2010-12-28", "series": "GTM 8", "value": 47.870},
      {"date": "2011-01-06", "series": "GTM 8", "value": 47.916},
      {"date": "2011-01-11", "series": "GTM 8", "value": 47.930},
      {"date": "2011-01-17", "series": "GTM 8", "value": 47.956},
      {"date": "2011-01-25", "series": "GTM 8", "value": 47.920},
      {"date": "2011-02-04", "series": "GTM 8", "value": 47.962},
      {"date": "2011-02-10", "series": "GTM 8", "value": 47.940},
      {"date": "2011-02-16", "series": "GTM 8", "value": 47.969},
      {"date": "2011-02-22", "series": "GTM 8", "value": 47.943},
      {"date": "2011-03-01", "series": "GTM 8", "value": 47.970},
      {"date": "2011-03-08", "series": "GTM 8", "value": 47.920},
      {"date": "2011-03-16", "series": "GTM 8", "value": 47.903},
      {"date": "2011-03-24", "series": "GTM 8", "value": 47.930},
      {"date": "2011-04-01", "series": "GTM 8", "value": 47.880},
      {"date": "2011-04-08", "series": "GTM 8", "value": 47.903},
      {"date": "2011-04-14", "series": "GTM 8", "value": 47.920},
      {"date": "2011-04-20", "series": "GTM 8", "value": 47.890},
      {"date": "2011-05-01", "series": "GTM 8", "value": 47.870},
      {"date": "2011-05-13", "series": "GTM 8", "value": 47.844},
      {"date": "2011-05-25", "series": "GTM 8", "value": 47.785},
      {"date": "2011-06-18", "series": "GTM 8", "value": 47.706},
      {"date": "2011-07-05", "series": "GTM 8", "value": 47.633},
      {"date": "2011-07-23", "series": "GTM 8", "value": 47.541},
      {"date": "2011-08-10", "series": "GTM 8", "value": 47.436},
      {"date": "2011-08-28", "series": "GTM 8", "value": 47.488},
      {"date": "2011-09-15", "series": "GTM 8", "value": 47.475},
      {"date": "2011-10-02", "series": "GTM 8", "value": 47.409},
      {"date": "2011-10-25", "series": "GTM 8", "value": 47.370},
      {"date": "2011-11-13", "series": "GTM 8", "value": 47.310},
      {"date": "2011-11-30", "series": "GTM 8", "value": 47.376},
      {"date": "2011-12-17", "series": "GTM 8", "value": 47.508},
      {"date": "2012-01-05", "series": "GTM 8", "value": 47.673},
      {"date": "2012-01-15", "series": "GTM 8", "value": 47.730},
      {"date": "2012-01-22", "series": "GTM 8", "value": 47.785},
      {"date": "2012-01-28", "series": "GTM 8", "value": 47.760},
      {"date": "2012-02-03", "series": "GTM 8", "value": 47.790},
      {"date": "2012-02-09", "series": "GTM 8", "value": 47.752},
      {"date": "2012-02-15", "series": "GTM 8", "value": 47.780},
      {"date": "2012-02-20", "series": "GTM 8", "value": 47.760},
      {"date": "2012-02-26", "series": "GTM 8", "value": 47.791},
      {"date": "2012-03-05", "series": "GTM 8", "value": 47.800},
      {"date": "2012-03-15", "series": "GTM 8", "value": 47.837},
      {"date": "2012-03-20", "series": "GTM 8", "value": 47.820},
      {"date": "2012-03-26", "series": "GTM 8", "value": 47.804}
    ]
  },
  "layer": [
    {
      "layer": [
        {
          "data": {"name": "left"},
          "mark": {"type": "line", "clip": true},
          "encoding": {
            "x": {"field": "date", "type": "temporal", "title": null,
              "scale": {"type": "utc", "domain": [{"year": 2003, "month": 11, "date": 1, "utc": true}, {"year": 2012, "month": 11, "date": 1, "utc": true}]},
              "axis": {"values": [
                {"year": 2003, "month": 11, "date": 1, "utc": true},
                {"year": 2004, "month": 11, "date": 1, "utc": true},
                {"year": 2005, "month": 11, "date": 1, "utc": true},
                {"year": 2006, "month": 11, "date": 1, "utc": true},
                {"year": 2007, "month": 11, "date": 1, "utc": true},
                {"year": 2008, "month": 11, "date": 1, "utc": true},
                {"year": 2009, "month": 11, "date": 1, "utc": true},
                {"year": 2010, "month": 11, "date": 1, "utc": true},
                {"year": 2011, "month": 11, "date": 1, "utc": true},
                {"year": 2012, "month": 11, "date": 1, "utc": true}],
                "labelExpr": "utcFormat(datum.value, '%b %y')",
                "ticks": false, "labelPadding": 9, "labelFlush": false, "grid": true}},
            "y": {"field": "value", "type": "quantitative", "title": null,
              "scale": {"domain": [49.6, 51.6], "nice": false, "zero": false},
              "axis": {"orient": "left", "values": [49.6, 49.8, 50.0, 50.2, 50.4, 50.6, 50.8, 51.0, 51.2, 51.4, 51.6],
                "labelExpr": "replace(format(datum.value, '.2f'), '.', ',')",
                "ticks": false, "labelPadding": 13, "grid": true}},
            "color": {"field": "series", "type": "nominal", "title": null,
              "scale": {"domain": ["GTM 11", "GTM LP 2", "GTM LP 3", "GTM 8"], "range": ["#141480", "#ffff00", "#33ffff", "#ff00ff"]},
              "legend": {"orient": "none", "legendX": 20, "legendY": 267, "columns": 2, "direction": "horizontal",
                "fillColor": "white", "padding": 12, "columnPadding": 29, "rowPadding": 16,
                "symbolType": "stroke", "symbolSize": 625, "symbolStrokeWidth": 4, "labelOffset": 5}},
            "strokeWidth": {"condition": {"test": "datum.series === 'GTM 11'", "value": 2.8}, "value": 2.2}
          }
        },
        {
          "data": {"name": "left"},
          "transform": [{"filter": "datum.series === 'GTM LP 2'"}],
          "mark": {"type": "point", "filled": true, "shape": "circle", "size": 18, "color": "#ffff00", "opacity": 1},
          "encoding": {
            "x": {"field": "date", "type": "temporal"},
            "y": {"field": "value", "type": "quantitative"}
          }
        },
        {
          "data": {"name": "left"},
          "transform": [{"filter": "datum.series === 'GTM LP 3'"}],
          "mark": {"type": "point", "filled": false, "shape": "M-1,-1L1,1M1,-1L-1,1", "size": 40, "stroke": "#33ffff", "strokeWidth": 1.3, "opacity": 1},
          "encoding": {
            "x": {"field": "date", "type": "temporal"},
            "y": {"field": "value", "type": "quantitative"}
          }
        },
        {
          "data": {"values": [{}]},
          "mark": {"type": "rect", "fill": "#ffffcc", "stroke": "#e8e8b0", "strokeWidth": 0.5},
          "encoding": {
            "x": {"datum": {"year": 2011, "month": 12, "date": 13, "utc": true}, "type": "temporal"},
            "x2": {"datum": {"year": 2012, "month": 10, "date": 13, "utc": true}},
            "y": {"datum": 51.571, "type": "quantitative"},
            "y2": {"datum": 51.446}
          }
        },
        {
          "data": {"values": [{}]},
          "mark": {"type": "text", "text": "GTM 8", "font": "Liberation Sans", "fontWeight": "bold", "fontSize": 16, "color": "#333333", "align": "center", "baseline": "middle"},
          "encoding": {
            "x": {"datum": {"year": 2012, "month": 5, "date": 13, "utc": true}, "type": "temporal"},
            "y": {"datum": 51.507, "type": "quantitative"}
          }
        }
      ]
    },
    {
      "data": {"name": "gtm8"},
      "mark": {"type": "line", "strokeWidth": 2.2, "clip": true},
      "encoding": {
        "x": {"field": "date", "type": "temporal"},
        "y": {"field": "value", "type": "quantitative", "title": null,
          "scale": {"domain": [47.2, 48.3], "nice": false, "zero": false},
          "axis": {"orient": "right", "values": [47.2, 47.3, 47.4, 47.5, 47.6, 47.7, 47.8, 47.9, 48.0, 48.1, 48.2, 48.3],
            "labelExpr": "replace(format(datum.value, '.2f'), '.', ',')",
            "ticks": true, "tickSize": 5, "tickColor": "#9a9a9a", "labelPadding": 7, "grid": false}},
        "color": {"field": "series", "type": "nominal"}
      }
    }
  ],
  "resolve": {"scale": {"y": "independent"}}
}
